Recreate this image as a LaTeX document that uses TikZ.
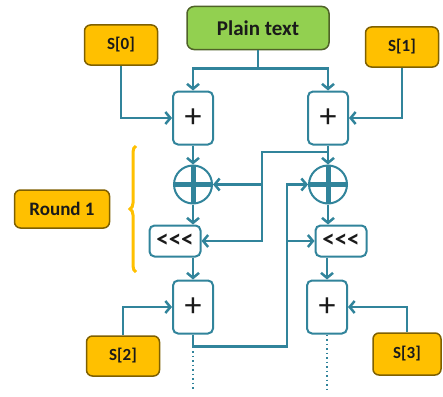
\documentclass[tikz,border=0pt]{standalone}
\usepackage{fontspec}
\setsansfont{Carlito}
\usepackage{xcolor}
\definecolor{rcTeal}{HTML}{31849B}
\definecolor{rcKey}{HTML}{FFC000}
\definecolor{rcKeyBorder}{HTML}{7F6000}
\definecolor{rcPlain}{HTML}{92D050}
\definecolor{rcPlainBorder}{HTML}{4F6228}
\definecolor{rcText}{HTML}{1A1A1A}
\usetikzlibrary{arrows.meta,positioning,calc,decorations.pathreplacing}
\tikzset{
    plainbox/.style={
        draw=rcPlainBorder,
        fill=rcPlain,
        rectangle,
        rounded corners=7pt,
        minimum width=142pt,
        minimum height=43pt,
        line width=1.5pt,
        text=rcText,
        font=\sffamily\bfseries\fontsize{21}{23}\selectfont
    },
    keybox/.style={
        draw=rcKeyBorder,
        fill=rcKey,
        rectangle,
        rounded corners=6pt,
        minimum width=73pt,
        minimum height=40pt,
        line width=1.5pt,
        text=rcText,
        font=\sffamily\bfseries\fontsize{17}{19}\selectfont
    },
    adder/.style={
        draw=rcTeal,
        fill=white,
        rectangle,
        rounded corners=5pt,
        minimum width=40pt,
        minimum height=53pt,
        inner sep=0pt,
        line width=2pt,
        text=rcText,
        font=\sffamily\fontsize{34}{34}\selectfont
    },
    rotbox/.style={
        draw=rcTeal,
        fill=white,
        rectangle,
        rounded corners=5pt,
        minimum width=51pt,
        minimum height=31pt,
        inner sep=0pt,
        line width=2pt,
        text=rcText,
        font=\sffamily\bfseries\fontsize{25}{25}\selectfont
    },
    xorop/.style={
        draw=rcTeal,
        fill=white,
        circle,
        minimum size=38pt,
        inner sep=0pt,
        line width=2pt,
        path picture={
            \draw[rcTeal, line width=5pt]
                (path picture bounding box.north) -- (path picture bounding box.south)
                (path picture bounding box.west) -- (path picture bounding box.east);
        }
    },
    wire/.style={
        draw=rcTeal,
        line width=2.5pt
    },
    conn/.style={
        wire,
        -{Straight Barb[length=5pt,width=12pt]}
    },
    dots/.style={
        draw=rcTeal,
        line width=2pt,
        dash pattern=on 1.5pt off 3pt
    }
}

\begin{document}
\begin{tikzpicture}[x=1pt, y=-1pt]
    \useasboundingbox (0,0) rectangle (443,396);

    % Input and keys
    \node[plainbox] (plain) at (258,28) {Plain text};
    \node[keybox] (s0) at (121,45) {S[0]};
    \node[keybox] (s1) at (402,47) {S[1]};

    % First additions
    \node[adder] (addA) at (193,118) {+};
    \node[adder, right=93pt of addA] (addB) {+};

    % Xor
    \node[xorop, below=19pt of addA] (xorA) {};
    \node[xorop, below=19pt of addB] (xorB) {};

    % Rotations
    \node[rotbox] (rotA) at (175,241) {{<}{<}{<}};
    \node[rotbox] (rotB) at (341,241) {{<}{<}{<}};

    % Second additions
    \node[adder] (addC) at (193,307) {+};
    \node[adder] (addD) at (327,307) {+};
    \node[keybox] (s2) at (123,356) {S[2]};
    \node[keybox, minimum width=68pt, minimum height=42pt] (s3) at (407,354) {S[3]};

    % Round label
    \node[keybox, minimum width=95pt, minimum height=38pt,
          font=\sffamily\bfseries\fontsize{19}{21}\selectfont] (round) at (62,209) {Round 1};
    \draw[rcKey, line width=3pt, decorate, decoration={brace, amplitude=6pt}]
        (136,272) -- (136,146);

    % Connections
    \coordinate (split) at ($(plain.south)+(0,18)$);
    \draw[wire] (plain) -- (split);
    \draw[conn] (split) -| (addA);
    \draw[conn] (split) -| (addB);
    \draw[conn] (s0) |- (addA);
    \draw[conn] (s1) |- (addB);
    \draw[conn] (addA) -- (xorA);
    \draw[conn] (addB) -- (xorB);
    \draw[conn] (xorA) -- (xorA |- rotA.north);
    \draw[conn] (xorB) -- (xorB |- rotB.north);
    \draw[conn] (addC.north |- rotA.south) -- (addC);
    \draw[conn] (addD.north |- rotB.south) -- (addD);
    \draw[conn] (s2) |- (addC);
    \draw[conn] (s3) |- (addD);

    % Cross links
    \coordinate (busA) at (262,0);
    \coordinate (busB) at (287,0);
    \coordinate (tapB) at ($(addB.south)!0.33!(xorB.north)$);
    \coordinate (tapC) at ($(addC.south)+(0,12)$);
    \draw[conn] (tapB) -| (busA |- rotA.east) -- (rotA.east);
    \draw[conn] (busA |- xorA) -- (xorA);
    \draw[conn] (addC.south) -- (tapC) -| (busB |- xorB) -- (xorB);
    \draw[conn] (busB |- rotB.west) -- (rotB.west);

    % Next round
    \draw[dots] (tapC) -- ++(0,45);
    \draw[dots] (addD.south) -- ++(0,57);
\end{tikzpicture}
\end{document}
